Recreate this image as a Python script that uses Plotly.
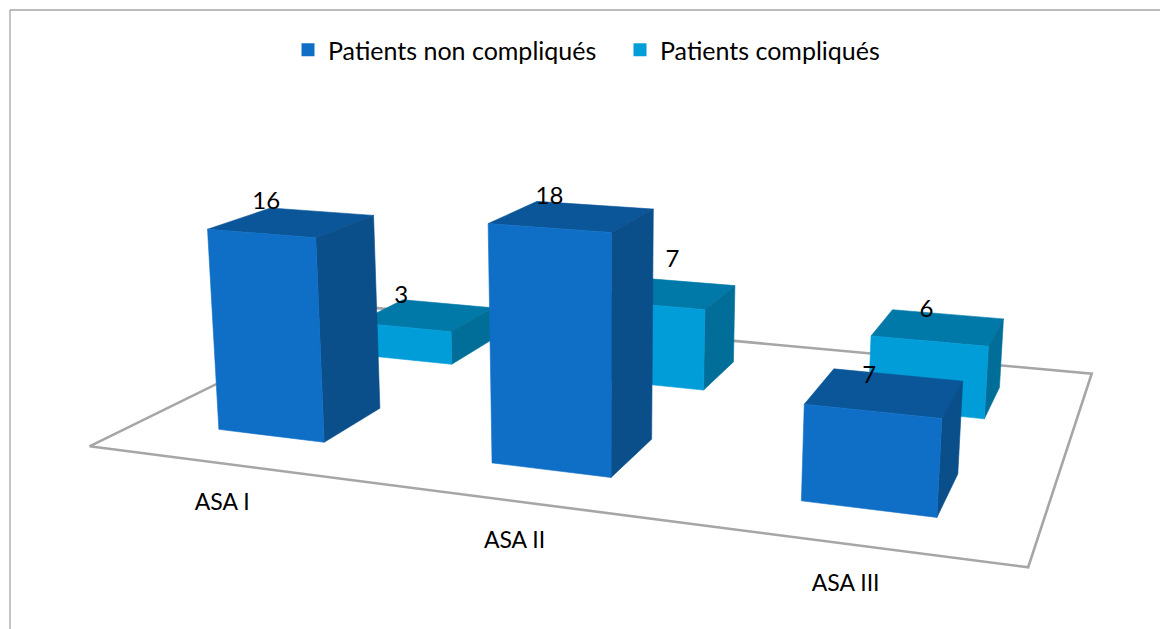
import numpy as np
import plotly.graph_objects as go

# ---- data ----
categories = ["ASA I", "ASA II", "ASA III"]
series_names = ["Patients non compliqués", "Patients compliqués"]
non_compliques = [16, 18, 7]
compliques = [3, 7, 6]

# ---- style ----
FRONT = ["#0F6FC6", "#009DD9"]
TOP = ["#0A5699", "#0079A8"]
SIDE = ["#0A4E8A", "#006E98"]
GREY = "#A6A6A6"
FONT = "Lato, Noto Sans, sans-serif"
HALF_W, HALF_D = 0.2, 0.2
VALUE_OFFSETS = [[(-26, -19), (-23, -18), (-16, -15)], [(-25, -18), (4, -32), (-12, -16)]]
CAT_OFFSETS = [(54, 10), (42, 5), (23, 0)]
FLOOR = [(0, 0, 0), (2.99, 0.01, 0), (3, 2, 0), (0, 2, 0), (0, 0, 0)]

# perspective camera of the 3-D chart: world (category, series depth, value) -> screen
CAMERA = np.array([
    [251.9024, 201.6374, -1.1148, 89.5031],
    [6.6636, -19.4443, -13.3130, 446.3271],
    [-0.060222, 0.162147, -0.00185061, 1.0],
])


def project(x, y, z):
    q = CAMERA @ np.array([x, y, z, 1.0])
    return q[0] / q[2], q[1] / q[2]


def poly(points, color, name=None):
    xy = [project(*p) for p in points + points[:1]]
    return go.Scatter(
        x=[a for a, _ in xy], y=[b for _, b in xy], mode="lines", fill="toself",
        fillcolor=color, line=dict(width=0.6, color=color), hoverinfo="skip", showlegend=False,
    )


fig = go.Figure()

# floor
fx, fy = zip(*[project(*p) for p in FLOOR])
fig.add_trace(go.Scatter(x=fx, y=fy, mode="lines", line=dict(color=GREY, width=2.6), hoverinfo="skip", showlegend=False))

values = [non_compliques, compliques]
# back row first, then front row
for s in (1, 0):
    for c in range(len(categories)):
        v = values[s][c]
        x0, x1 = c + 0.5 - HALF_W, c + 0.5 + HALF_W
        y0, y1 = s + 0.5 - HALF_D, s + 0.5 + HALF_D
        fig.add_trace(poly([(x0, y0, v), (x1, y0, v), (x1, y1, v), (x0, y1, v)], TOP[s]))
        fig.add_trace(poly([(x1, y0, 0), (x1, y1, 0), (x1, y1, v), (x1, y0, v)], SIDE[s]))
        fig.add_trace(poly([(x0, y0, 0), (x1, y0, 0), (x1, y0, v), (x0, y0, v)], FRONT[s]))

# value labels
for s in (1, 0):
    for c in range(len(categories)):
        v = values[s][c]
        px, py = project(c + 0.5, s + 0.5, v)
        dx, dy = VALUE_OFFSETS[s][c]
        fig.add_trace(go.Scatter(x=[px + dx], y=[py + dy], mode="text", text=[str(v)],
                                 textfont=dict(family=FONT, size=24, color="#000000"),
                                 textposition="middle center", hoverinfo="skip", showlegend=False))

# category labels
for c, name in enumerate(categories):
    px, py = project(c + 0.5, -0.3, 0)
    dx, dy = CAT_OFFSETS[c]
    fig.add_trace(go.Scatter(x=[px + dx], y=[py + dy], mode="text", text=[name],
                             textfont=dict(family=FONT, size=23, color="#000000"),
                             textposition="middle center", hoverinfo="skip", showlegend=False))

# legend entries
for s, name in enumerate(series_names):
    fig.add_trace(go.Scatter(x=[None], y=[None], mode="markers", name=name,
                             marker=dict(symbol="square", size=13, color=FRONT[s])))

fig.update_layout(
    width=1160, height=629, margin=dict(l=0, r=0, t=0, b=0),
    paper_bgcolor="white", plot_bgcolor="white",
    xaxis=dict(range=[0, 1160], visible=False, fixedrange=True),
    yaxis=dict(range=[629, 0], visible=False, fixedrange=True),
    legend=dict(orientation="h", x=288 / 1160, y=1 - 50 / 629, xanchor="left", yanchor="middle",
                font=dict(family=FONT, size=25, color="#000000"),
                entrywidth=287, entrywidthmode="pixels", itemwidth=30, bgcolor="rgba(0,0,0,0)"),
    shapes=[
        dict(type="line", xref="paper", yref="paper", x0=10 / 1160, x1=1, y0=1 - 10 / 629, y1=1 - 10 / 629,
             line=dict(color=GREY, width=1.3)),
        dict(type="line", xref="paper", yref="paper", x0=10 / 1160, x1=10 / 1160, y0=1 - 10 / 629, y1=0,
             line=dict(color=GREY, width=1.3)),
    ],
)
fig.write_html("out.html", config={"displayModeBar": False}, post_script="document.body.style.margin='0';")
